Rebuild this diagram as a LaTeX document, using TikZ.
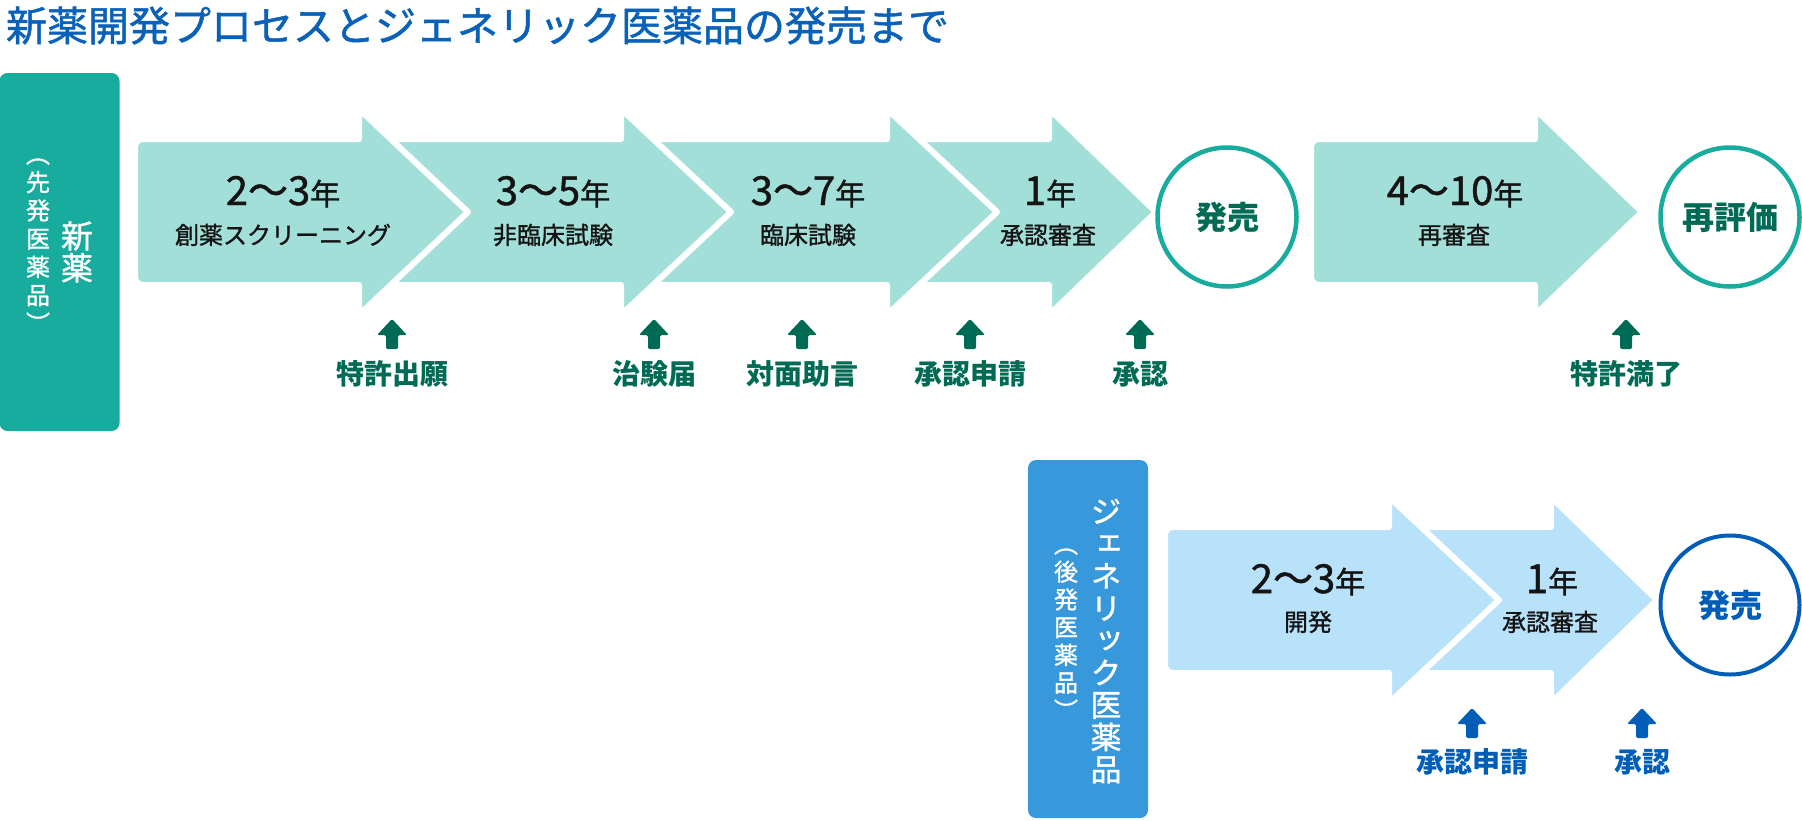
\documentclass[tikz,border=0pt]{standalone}
\usepackage{fontspec}
\setmainfont{Noto Sans CJK JP}
\newfontfamily\medjp[FakeBold=1.2]{Noto Sans CJK JP}
\newfontfamily\vjp[RawFeature=+vert, FakeBold=1.2]{Noto Sans CJK JP}
\usetikzlibrary{positioning}
\definecolor{newteal}{RGB}{23,172,158}
\definecolor{paleteal}{RGB}{163,223,217}
\definecolor{darkteal}{RGB}{0,107,85}
\definecolor{genblue}{RGB}{56,152,220}
\definecolor{paleblue}{RGB}{184,226,250}
\definecolor{deepblue}{RGB}{0,94,184}
\definecolor{titleblue}{RGB}{10,98,184}
\definecolor{inkblack}{RGB}{20,20,20}

\newcommand{\fs}[1]{\fontsize{#1}{#1}\selectfont}
\newcommand{\nen}{{\fs{30}年}}
% stage arrow: style, left x, head x, tip x, middle y
\newcommand{\chevron}[5]{%
  \filldraw[#1] (#2+40,#5-73) -- (#3-3,#5-73) -- (#3-3,#5-103) -- (#4+4,#5)
    -- (#3-3,#5+103) -- (#3-3,#5+73) -- (#2+40,#5+73)
    [rounded corners=8pt] -- (#2-3,#5+73) -- (#2-3,#5-73) -- cycle;}
% small up arrow: colour, x, tip y
\newcommand{\uptick}[3]{%
  \fill[#1, rounded corners=1.5pt] (#2,#3) -- (#2+15,#3+16) -- (#2+6,#3+16) -- (#2+6,#3+30)
    -- (#2-6,#3+30) -- (#2-6,#3+16) -- (#2-15,#3+16) -- cycle;}

\begin{document}
\begin{tikzpicture}[x=1pt, y=-1pt,
  every node/.style={inner sep=0pt, outer sep=0pt},
  stage/.style={draw=white, line width=6pt, line join=round},
  years/.style={anchor=base, font=\medjp\fs{40}, text=inkblack},
  phase/.style={anchor=base, font=\medjp\fs{24}, text=inkblack},
  milestone/.style={anchor=base, font=\fs{28}\bfseries},
  release/.style={circle, draw, line width=4.5pt, minimum size=139pt, fill=white, font=\fs{32}\bfseries},
  catbox/.style={rounded corners=8pt, minimum width=120pt, minimum height=358pt}
]
  \useasboundingbox (0,0) rectangle (1802,820);

  \node[anchor=base west, font=\medjp\fs{41}, text=titleblue] (title) at (6,41) {新薬開発プロセスとジェネリック医薬品の発売まで};

  % new drug
  \node[catbox, fill=newteal] (newbox) at (59.5,252) {};
  \foreach \c [count=\i] in {新,薬}
    \node[anchor=base, font=\vjp\fs{32}, text=white] (nv\i) at (77,248+32*\i-32) {\c};
  \foreach \c [count=\i] in {（,先,発,医,薬,品,）}
    \node[anchor=base, font=\vjp\fs{24}, text=white] (nk\i) at (38,163+28.25*\i-28.25) {\c};

  \chevron{stage, fill=paleteal}{890}{1052}{1152}{212}
  \chevron{stage, fill=paleteal}{624}{890}{993}{212}
  \chevron{stage, fill=paleteal}{362}{624}{727}{212}
  \chevron{stage, fill=paleteal}{138}{362}{464}{212}
  \chevron{stage, fill=paleteal}{1314}{1538}{1638}{212}

  \node[years] (y1) at (283,205) {2～3\nen};
  \node[phase] (p1) at (283,244) {創薬スクリーニング};
  \node[years] (y2) at (553,205) {3～5\nen};
  \node[phase] (p2) at (553,244) {非臨床試験};
  \node[years] (y3) at (808,205) {3～7\nen};
  \node[phase] (p3) at (808,244) {臨床試験};
  \node[years] (y4) at (1050,205) {1\nen};
  \node[phase] (p4) at (1048,244) {承認審査};
  \node[years] (y5) at (1455,205) {4～10\nen};
  \node[phase] (p5) at (1454,244) {再審査};

  \node[release, draw=newteal, text=darkteal] (launch) at (1227,217) {発売};
  \node[release, draw=newteal, text=darkteal] (review) at (1730,217) {再評価};

  \foreach \x/\t [count=\i] in {392/特許出願,654/治験届,802/対面助言,970/承認申請,1140/承認,1626/特許満了}{
    \uptick{darkteal}{\x}{319}
    \node[milestone, text=darkteal] (nm\i) at (\x,384) {\t};
  }

  % generic drug
  \node[catbox, fill=genblue] (genbox) at (1088,639) {};
  \foreach \c [count=\i] in {ジ,ェ,ネ,リ,ッ,ク,医,薬,品}
    \node[anchor=base, font=\vjp\fs{31}, text=white] (gv\i) at (1106,523+32.25*\i-32.25) {\c};
  \foreach \c [count=\i] in {（,後,発,医,薬,品,）}
    \node[anchor=base, font=\vjp\fs{24}, text=white] (gk\i) at (1066,553+27.75*\i-27.75) {\c};

  \chevron{stage, fill=paleblue}{1392}{1554}{1653}{600}
  \chevron{stage, fill=paleblue}{1168}{1392}{1495}{600}

  \node[years] (gy1) at (1308,593) {2～3\nen};
  \node[phase] (gp1) at (1308,631) {開発};
  \node[years] (gy2) at (1552,593) {1\nen};
  \node[phase] (gp2) at (1550,631) {承認審査};

  \node[release, draw=deepblue, line width=4pt, text=deepblue] (glaunch) at (1730,605) {発売};

  \foreach \x/\t [count=\i] in {1472/承認申請,1642/承認}{
    \uptick{deepblue}{\x}{708}
    \node[milestone, text=deepblue] (gm\i) at (\x,772) {\t};
  }
\end{tikzpicture}
\end{document}
